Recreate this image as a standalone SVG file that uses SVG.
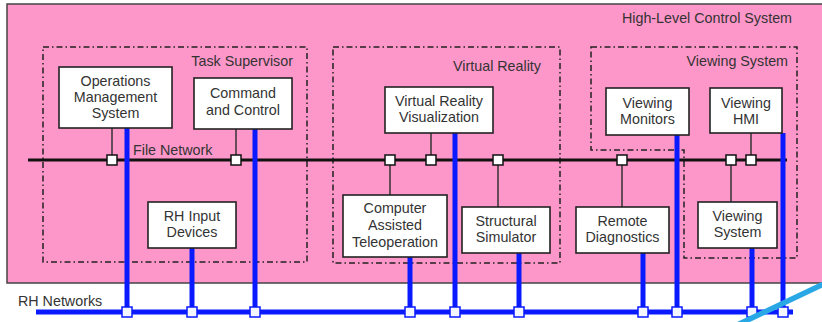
<svg xmlns="http://www.w3.org/2000/svg" width="822" height="322" viewBox="0 0 822 322">
<style>
text{font-family:"Liberation Sans",Arial,sans-serif;font-size:14.3px;fill:#333}
.c{text-anchor:middle}
.e{text-anchor:end}
.box{fill:#fff;stroke:#222;stroke-width:1.6}
.grp{fill:none;stroke:#222;stroke-width:1.5;stroke-dasharray:6 3 1.5 3}
.thin{stroke:#333;stroke-width:1.5;fill:none}
.blue{stroke:#0a1aff;stroke-width:5;fill:none}
.fn{fill:#fff;stroke:#111;stroke-width:1.5}
.rn{fill:#f4f6ff;stroke:#0a1aff;stroke-width:1.5}
</style>
<rect x="0" y="0" width="822" height="322" fill="#fff"/>
<g id="high-level-control-system">
<rect x="7" y="4" width="830" height="279" fill="#fe97c9" stroke="#444" stroke-width="1.5"/>
<text class="e" x="792" y="23">High-Level Control System</text>
</g>
<g id="task-supervisor">
<rect class="grp" x="43" y="47" width="264" height="215"/>
<text class="e" x="293" y="66">Task Supervisor</text>
</g>
<g id="virtual-reality">
<rect class="grp" x="333" y="47" width="227" height="216"/>
<text class="e" x="541" y="71">Virtual Reality</text>
</g>
<g id="viewing-system-group">
<polygon class="grp" points="591,47 797,47 797,258 684,258 684,150 591,150"/>
<text class="e" x="788" y="66">Viewing System</text>
</g>
<g id="connectors">
<line x1="28" y1="160" x2="787" y2="160" stroke="#111" stroke-width="3"/>
<text x="133" y="155">File Network</text>
<line class="thin" x1="112" y1="128" x2="112" y2="160"/>
<line class="thin" x1="236" y1="129" x2="236" y2="160"/>
<line class="thin" x1="390" y1="160" x2="390" y2="195"/>
<line class="thin" x1="431" y1="133" x2="431" y2="160"/>
<line class="thin" x1="498" y1="160" x2="498" y2="207"/>
<line class="thin" x1="622" y1="160" x2="622" y2="207"/>
<line class="thin" x1="731" y1="160" x2="731" y2="202"/>
<line class="thin" x1="751" y1="133" x2="751" y2="160"/>
<line x1="36" y1="312" x2="793" y2="312" stroke="#0a1aff" stroke-width="5"/>
<text x="18" y="306">RH Networks</text>
<line class="blue" x1="127" y1="128" x2="127" y2="312"/>
<line class="blue" x1="192" y1="248" x2="192" y2="312"/>
<line class="blue" x1="255" y1="129" x2="255" y2="312"/>
<line class="blue" x1="410" y1="257" x2="410" y2="312"/>
<line class="blue" x1="455" y1="133" x2="455" y2="312"/>
<line class="blue" x1="519" y1="253" x2="519" y2="312"/>
<line class="blue" x1="643" y1="253" x2="643" y2="312"/>
<line class="blue" x1="677" y1="135" x2="677" y2="312"/>
<line class="blue" x1="752" y1="248" x2="752" y2="312"/>
<line class="blue" x1="783" y1="133" x2="783" y2="312"/>
<rect class="fn" x="107" y="155" width="10" height="10"/>
<rect class="fn" x="231" y="155" width="10" height="10"/>
<rect class="fn" x="385" y="155" width="10" height="10"/>
<rect class="fn" x="426" y="155" width="10" height="10"/>
<rect class="fn" x="493" y="155" width="10" height="10"/>
<rect class="fn" x="617" y="155" width="10" height="10"/>
<rect class="fn" x="726" y="155" width="10" height="10"/>
<rect class="fn" x="746" y="155" width="10" height="10"/>
<rect class="rn" x="122" y="307" width="10" height="10"/>
<rect class="rn" x="187" y="307" width="10" height="10"/>
<rect class="rn" x="250" y="307" width="10" height="10"/>
<rect class="rn" x="405" y="307" width="10" height="10"/>
<rect class="rn" x="450" y="307" width="10" height="10"/>
<rect class="rn" x="514" y="307" width="10" height="10"/>
<rect class="rn" x="638" y="307" width="10" height="10"/>
<rect class="rn" x="672" y="307" width="10" height="10"/>
<rect class="rn" x="747" y="307" width="10" height="10"/>
<rect class="rn" x="778" y="307" width="10" height="10"/>
<line x1="735" y1="326" x2="830" y2="281" stroke="#2aa8e6" stroke-width="5.5"/>
</g>
<g id="operations-management-system">
<rect class="box" x="59" y="67" width="113" height="61"/>
<text class="c" x="115.5" y="86">Operations</text>
<text class="c" x="115.5" y="102">Management</text>
<text class="c" x="115.5" y="118">System</text>
</g>
<g id="command-and-control">
<rect class="box" x="194" y="78" width="98" height="51"/>
<text class="c" x="243" y="98">Command</text>
<text class="c" x="243" y="115">and Control</text>
</g>
<g id="rh-input-devices">
<rect class="box" x="148" y="202" width="88" height="46"/>
<text class="c" x="192" y="221">RH Input</text>
<text class="c" x="192" y="237">Devices</text>
</g>
<g id="virtual-reality-visualization">
<rect class="box" x="385" y="87" width="108" height="46"/>
<text class="c" x="439" y="106">Virtual Reality</text>
<text class="c" x="439" y="122">Visualization</text>
</g>
<g id="computer-assisted-teleoperation">
<rect class="box" x="343" y="195" width="104" height="62"/>
<text class="c" x="395" y="213">Computer</text>
<text class="c" x="395" y="230">Assisted</text>
<text class="c" x="395" y="247">Teleoperation</text>
</g>
<g id="structural-simulator">
<rect class="box" x="462" y="207" width="88" height="46"/>
<text class="c" x="506" y="226">Structural</text>
<text class="c" x="506" y="242">Simulator</text>
</g>
<g id="remote-diagnostics">
<rect class="box" x="576" y="207" width="93" height="46"/>
<text class="c" x="622.5" y="226">Remote</text>
<text class="c" x="622.5" y="242">Diagnostics</text>
</g>
<g id="viewing-monitors">
<rect class="box" x="606" y="88" width="83" height="47"/>
<text class="c" x="647.5" y="108">Viewing</text>
<text class="c" x="647.5" y="124">Monitors</text>
</g>
<g id="viewing-hmi">
<rect class="box" x="710" y="88" width="72" height="45"/>
<text class="c" x="746" y="108">Viewing</text>
<text class="c" x="746" y="124">HMI</text>
</g>
<g id="viewing-system">
<rect class="box" x="698" y="202" width="79" height="46"/>
<text class="c" x="737.5" y="221">Viewing</text>
<text class="c" x="737.5" y="237">System</text>
</g>
</svg>
